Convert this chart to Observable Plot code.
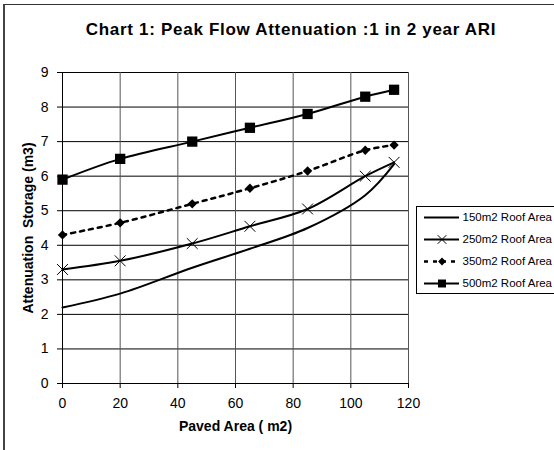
<!DOCTYPE html>
<html>
<head>
<meta charset="utf-8">
<script src="https://cdn.jsdelivr.net/npm/d3@7"></script>
<script src="https://cdn.jsdelivr.net/npm/@observablehq/plot@0.6"></script>
<style>
  html, body { margin: 0; padding: 0; background: #fff; }
  #wrap { position: relative; width: 554px; height: 450px; overflow: hidden; font-family: "Liberation Sans", Arial, sans-serif; }
  #frame { position: absolute; left: 3px; top: 4px; width: 600px; height: 500px; border-left: 2px solid #444; border-top: 1px solid #333; }
  #title { position: absolute; left: 0; width: 582px; top: 20px; text-align: center; font-weight: bold; font-size: 17px; letter-spacing: 0.7px; color: #000; }
  #chart { position: absolute; left: 0; top: 0; }
  #legend { position: absolute; left: 416px; top: 206px; width: 160px; height: 86px; border: 1px solid #000; background: #fff; }
  #legend svg { display: block; }
</style>
</head>
<body>
<div id="wrap">
  <div id="frame"></div>
  <div id="chart"></div>
  <div id="title">Chart 1: Peak Flow Attenuation :1 in 2 year ARI</div>
  <div id="legend"></div>
</div>
<script>
const pavedArea = [0, 20, 45, 65, 85, 105, 115];
const roof150 = [2.2, 2.6, 3.35, 3.9, 4.5, 5.45, 6.35];
const roof250 = [3.3, 3.55, 4.05, 4.55, 5.05, 6.0, 6.4];
const roof350 = [4.3, 4.65, 5.2, 5.65, 6.15, 6.75, 6.9];
const roof500 = [5.9, 6.5, 7.0, 7.4, 7.8, 8.3, 8.5];
const seriesNames = ["150m2 Roof Area", "250m2 Roof Area", "350m2 Roof Area", "500m2 Roof Area"];
const xTicks = [0, 20, 40, 60, 80, 100, 120];
const yTicks = [0, 1, 2, 3, 4, 5, 6, 7, 8, 9];

const toRows = (vals) => pavedArea.map((x, i) => ({x, y: vals[i]}));
const d150 = toRows(roof150), d250 = toRows(roof250), d350 = toRows(roof350), d500 = toRows(roof500);

const chart = Plot.plot({
  width: 554,
  height: 450,
  marginLeft: 62,
  marginRight: 146,
  marginTop: 72,
  marginBottom: 67,
  style: {fontFamily: "'Liberation Sans', Arial, sans-serif", fontSize: "14px", color: "#000", background: "transparent", overflow: "visible"},
  x: {domain: [0, 120], ticks: xTicks},
  y: {domain: [0, 9], ticks: yTicks},
  marks: [
    Plot.ruleY(yTicks.filter(d => d > 0), {stroke: "#000", strokeOpacity: 1, strokeWidth: 1}),
    Plot.ruleX(xTicks.filter(d => d > 0), {stroke: "#555", strokeOpacity: 1, strokeWidth: 1}),
    Plot.ruleX([0], {stroke: "#000", strokeWidth: 1}),
    Plot.ruleY([0], {stroke: "#000", strokeWidth: 1}),
    Plot.axisX({ticks: xTicks, tickSize: 5, tickPadding: 10, stroke: "#000", label: null, fontSize: 14}),
    Plot.axisY({ticks: yTicks, tickSize: 5, tickPadding: 9, stroke: "#000", label: null, fontSize: 14}),
    Plot.line(d150, {x: "x", y: "y", stroke: "#000", strokeWidth: 2, curve: "catmull-rom"}),
    Plot.line(d250, {x: "x", y: "y", stroke: "#000", strokeWidth: 2, curve: "catmull-rom"}),
    Plot.dot(d250, {x: "x", y: "y", symbol: "times", r: 5, stroke: "#000", strokeWidth: 1}),
    Plot.line(d350, {x: "x", y: "y", stroke: "#000", strokeWidth: 2.5, strokeDasharray: "4,5", curve: "catmull-rom"}),
    Plot.dot(d350, {x: "x", y: "y", symbol: "diamond2", r: 4.2, fill: "#000", stroke: "none"}),
    Plot.line(d500, {x: "x", y: "y", stroke: "#000", strokeWidth: 2, curve: "catmull-rom"}),
    Plot.dot(d500, {x: "x", y: "y", symbol: "square", r: 5.8, fill: "#000", stroke: "none"}),
    Plot.text(["Paved Area ( m2)"], {frameAnchor: "bottom", dy: 47, fontWeight: "bold", fontSize: 14, fill: "#000", style: "letter-spacing: 0.45px"}),
    Plot.text(["Attenuation  Storage (m3)"], {frameAnchor: "left", textAnchor: "middle", dx: -34, rotate: -90, fontWeight: "bold", fontSize: 14, fill: "#000", style: "white-space: pre; letter-spacing: 0.45px"})
  ]
});
document.getElementById("chart").appendChild(chart);

// Legend built with Plot too
const legendRows = seriesNames.map((name, i) => ({name, i}));
const legend = Plot.plot({
  width: 160, height: 86,
  margin: 0,
  style: {fontFamily: "'Liberation Sans', Arial, sans-serif", fontSize: "11.5px", background: "transparent"},
  x: {domain: [0, 160], axis: null},
  y: {domain: [0, 86], axis: null, reverse: true},
  marks: [
    Plot.ruleY(legendRows.filter(d => d.i !== 2), {y: d => 10 + d.i * 22, x1: 7, x2: 42, stroke: "#000", strokeWidth: 2}),
    Plot.ruleY(legendRows.filter(d => d.i === 2), {y: d => 10 + d.i * 22, x1: 7, x2: 42, stroke: "#000", strokeWidth: 2.5, strokeDasharray: "4,5"}),
    Plot.dot(legendRows.filter(d => d.i === 1), {x: 24.5, y: d => 10 + d.i * 22, symbol: "times", r: 4, stroke: "#000", strokeWidth: 1}),
    Plot.dot(legendRows.filter(d => d.i === 2), {x: 24.5, y: d => 10 + d.i * 22, symbol: "diamond2", r: 3.5, fill: "#000"}),
    Plot.dot(legendRows.filter(d => d.i === 3), {x: 24.5, y: d => 10 + d.i * 22, symbol: "square", r: 4.5, fill: "#000"}),
    Plot.text(legendRows, {x: 45, y: d => 10 + d.i * 22, text: "name", textAnchor: "start", fill: "#000", fontSize: 11.5})
  ]
});
document.getElementById("legend").appendChild(legend);
</script>
</body>
</html>
